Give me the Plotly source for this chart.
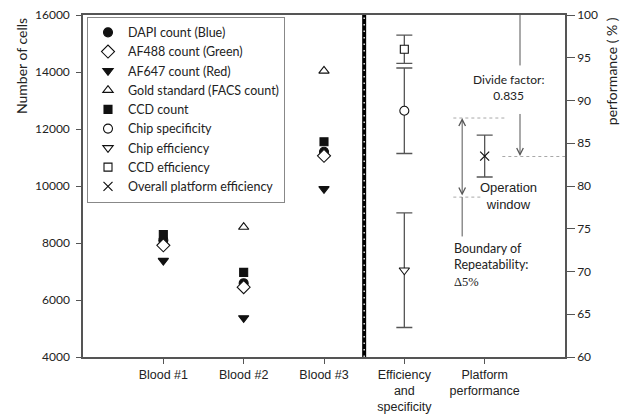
import plotly.graph_objects as go

# ---- data ----
categories = ["Blood #1", "Blood #2", "Blood #3", "Efficiency<br>and<br>specificity", "Platform<br>performance"]
cat_pos = [1, 2, 3, 4, 5]

blood_x = [1, 2, 3]
dapi = [8100, 6590, 11200]
af488 = [7920, 6450, 11060]
af647 = [7380, 5370, 9900]
gold = [None, 8560, 14040]
ccd_count = [8300, 6970, 11550]

eff_x = [4]
chip_specificity = [88.8]
chip_specificity_err = [5.0]
chip_efficiency = [70.15]
chip_efficiency_err = [6.7]
ccd_efficiency = [96.0]
ccd_efficiency_err = [1.65]
plat_x = [5]
overall_eff = [83.5]
overall_eff_err = [2.45]

LEFT_TICKS = [4000, 6000, 8000, 10000, 12000, 14000, 16000]
RIGHT_TICKS = [60, 65, 70, 75, 80, 85, 90, 95, 100]

CAL = "Lato"
ARIAL = "Liberation Sans"
INK = "#111111"
AX = "#555555"

fig = go.Figure()

def mk(symbol, size, filled=True):
    return dict(symbol=symbol, size=size, color=INK if filled else "white",
                line=dict(color=INK, width=1.1))

fig.add_trace(go.Scatter(x=blood_x, y=dapi, mode="markers", name="DAPI count (Blue)",
                         marker=mk("circle", 9)))
fig.add_trace(go.Scatter(x=blood_x, y=af488, mode="markers", name="AF488 count (Green)",
                         marker=mk("diamond", 10, False)))
fig.add_trace(go.Scatter(x=blood_x, y=af647, mode="markers", name="AF647 count (Red)",
                         marker=mk("triangle-down", 9)))
fig.add_trace(go.Scatter(x=blood_x, y=gold, mode="markers", name="Gold standard (FACS count)",
                         marker=mk("triangle-up", 9, False)))
fig.add_trace(go.Scatter(x=blood_x, y=ccd_count, mode="markers", name="CCD count",
                         marker=mk("square", 8)))

eb = dict(type="data", color=AX, thickness=1.3, width=8)
fig.add_trace(go.Scatter(x=eff_x, y=chip_specificity, mode="markers", name="Chip specificity",
                         yaxis="y2", marker=mk("circle", 9, False),
                         error_y=dict(array=chip_specificity_err, **eb)))
fig.add_trace(go.Scatter(x=eff_x, y=chip_efficiency, mode="markers", name="Chip efficiency",
                         yaxis="y2", marker=mk("triangle-down", 9, False),
                         error_y=dict(array=chip_efficiency_err, **eb)))
fig.add_trace(go.Scatter(x=eff_x, y=ccd_efficiency, mode="markers", name="CCD efficiency",
                         yaxis="y2", marker=mk("square", 8, False),
                         error_y=dict(array=ccd_efficiency_err, **eb)))
fig.add_trace(go.Scatter(x=plat_x, y=overall_eff, mode="markers", name="Overall platform efficiency",
                         yaxis="y2", marker=dict(symbol="x-thin-open", size=9, color=INK,
                                                 line=dict(color=INK, width=1.2)),
                         error_y=dict(array=overall_eff_err, **eb)))

shapes = []
# thick divider
shapes.append(dict(type="line", xref="x", yref="paper", x0=3.5, x1=3.5, y0=0, y1=1,
                   line=dict(color="black", width=4)))
shapes.append(dict(type="line", xref="x", yref="paper", x0=3.5, x1=3.5, y0=0, y1=1,
                   line=dict(color="white", width=1.3, dash="1.5px,5px")))
# divide factor line from top
shapes.append(dict(type="line", xref="x", yref="y2", x0=5.44, x1=5.44, y0=100, y1=94.1,
                   line=dict(color=AX, width=1)))
# dotted references
dot = dict(color="#a8a8a8", width=1, dash="dot")
shapes.append(dict(type="line", xref="x", yref="y2", x0=5.22, x1=6.0, y0=83.45, y1=83.45, line=dot))
shapes.append(dict(type="line", xref="x", yref="y2", x0=4.61, x1=5.25, y0=87.95, y1=87.95, line=dot))
shapes.append(dict(type="line", xref="x", yref="y2", x0=4.61, x1=4.95, y0=78.7, y1=78.7, line=dot))
# boundary line tail
shapes.append(dict(type="line", xref="x", yref="y2", x0=4.72, x1=4.72, y0=78.7, y1=74.1,
                   line=dict(color=AX, width=1)))

annotations = []
# divide arrow
annotations.append(dict(x=5.44, y=83.5, xref="x", yref="y2", ax=5.44, ay=88.6, axref="x", ayref="y2",
                        text="", showarrow=True, arrowhead=5, arrowsize=1.3, arrowwidth=1,
                        arrowcolor=AX))
# double arrow
annotations.append(dict(x=4.72, y=87.95, xref="x", yref="y2", ax=4.72, ay=78.7, axref="x", ayref="y2",
                        text="", showarrow=True, arrowhead=5, startarrowhead=5, arrowside="end+start",
                        arrowsize=1.3, startarrowsize=1.3, arrowwidth=1, arrowcolor=AX))
annotations.append(dict(x=5.30, y=91.5, xref="x", yref="y2", text="Divide factor:<br>0.835",
                        showarrow=False, font=dict(family=CAL, size=12, color="#222"),
                        xanchor="center", yanchor="middle"))
annotations.append(dict(x=5.30, y=78.85, xref="x", yref="y2", text="Operation<br>window",
                        showarrow=False, font=dict(family=ARIAL, size=13, color="#222"),
                        xanchor="center", yanchor="middle"))
annotations.append(dict(x=4.595, y=70.8, xref="x", yref="y2",
                        text="Boundary of<br>Repeatability:<br><span style='font-family:Liberation Serif'>Δ5%</span>",
                        showarrow=False, align="left", font=dict(family=CAL, size=12.5, color="#222"),
                        xanchor="left", yanchor="middle"))
# axis titles
annotations.append(dict(x=-0.127, y=0.85, xref="paper", yref="paper", text="Number of cells",
                        textangle=-90, showarrow=False, font=dict(family=CAL, size=14, color="#222"),
                        xanchor="center", yanchor="middle"))
annotations.append(dict(x=1.097, y=0.835, xref="paper", yref="paper", text="performance ( % )",
                        textangle=-90, showarrow=False, font=dict(family=CAL, size=14, color="#222"),
                        xanchor="center", yanchor="middle"))

# page is placed with an 8px body offset, so the figure is sized to fill the rest of the window
fig.update_layout(
    width=620, height=406,
    margin=dict(l=75, r=63, t=7, b=57),
    paper_bgcolor="white", plot_bgcolor="white",
    shapes=shapes, annotations=annotations,
    showlegend=True,
    legend=dict(x=0.0083, y=0.995, xanchor="left", yanchor="top",
                bordercolor="#888888", borderwidth=1, bgcolor="white",
                font=dict(family=CAL, size=12.5, color="#222"), indentation=0,
                tracegroupgap=0),
    xaxis=dict(range=[0, 6], tickmode="array", tickvals=cat_pos, ticktext=categories,
               showgrid=False, zeroline=False, showline=True, linecolor=AX, linewidth=1.5,
               mirror=True, ticks="outside", ticklen=5, tickcolor=AX, automargin=False,
               ticklabelstandoff=0, ticklabeloverflow="allow",
               tickfont=dict(family=ARIAL, size=12.5, color="#222")),
    yaxis=dict(range=[4000, 16000], tickvals=LEFT_TICKS, tickformat="d", showgrid=False, zeroline=False,
               showline=True, linecolor=AX, linewidth=1.5, ticks="outside", ticklen=5,
               tickcolor=AX, automargin=False, ticklabelstandoff=4, ticklabeloverflow="allow",
               tickfont=dict(family=CAL, size=12, color="#222")),
    yaxis2=dict(range=[60, 100], tickvals=RIGHT_TICKS, overlaying="y", side="right",
                showgrid=False, zeroline=False, showline=True, linecolor=AX, linewidth=1.5,
                ticks="outside", ticklen=8, tickcolor=AX, automargin=False, ticklabeloverflow="allow",
                tickfont=dict(family=CAL, size=12, color="#222")),
)

fig.write_html("out.html")
